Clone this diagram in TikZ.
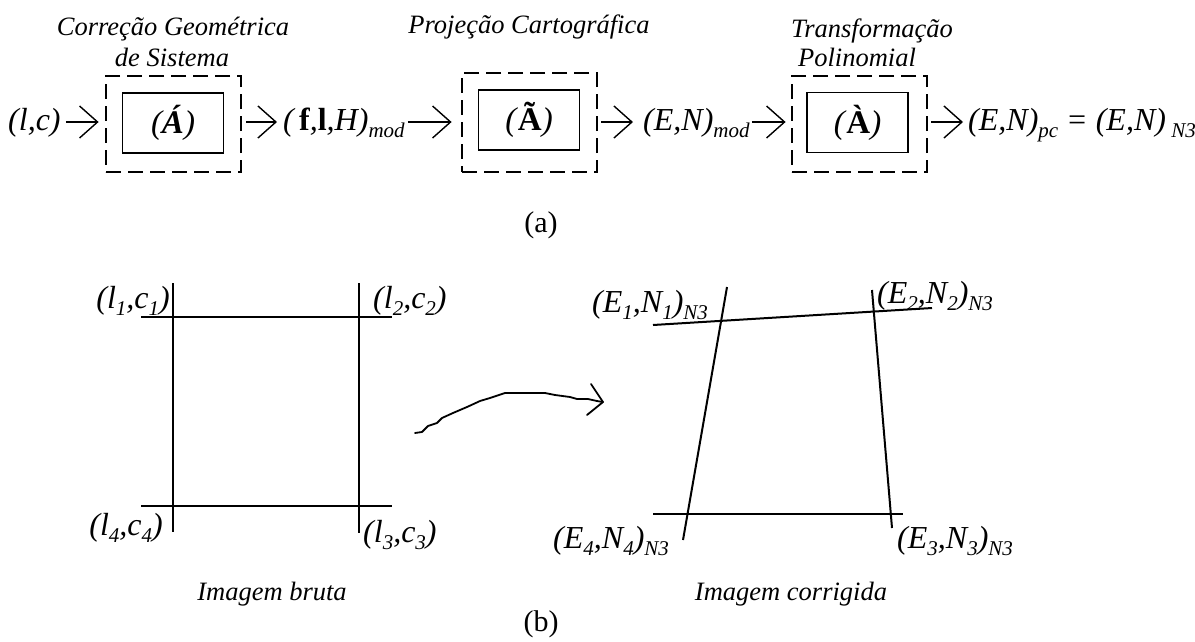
\documentclass[tikz,border=0pt]{standalone}
\usepackage{fontspec}
\setmainfont{Liberation Serif}
\usetikzlibrary{arrows.meta}
\newcommand{\sbs}[1]{\raisebox{-7pt}{\fontsize{21}{21}\selectfont\itshape #1}}
\begin{document}
\begin{tikzpicture}[x=1pt,y=-1pt,
  captxt/.style={font=\fontsize{26.5}{30}\selectfont\itshape, inner sep=0pt, anchor=base},
  frm/.style={font=\fontsize{32}{36}\selectfont\itshape, inner sep=0pt, anchor=base west},
  lblE/.style={font=\fontsize{32}{36}\selectfont\itshape, inner sep=0pt, anchor=base east},
  lblW/.style={font=\fontsize{32}{36}\selectfont\itshape, inner sep=0pt, anchor=base west},
  tagtxt/.style={font=\fontsize{30}{34}\selectfont, inner sep=0pt, anchor=base},
  dbox/.style={draw, line width=2.8pt, dash pattern=on 15pt off 7pt, minimum width=135pt, minimum height=96pt, inner sep=0pt},
  ibox/.style={draw, line width=1.6pt, minimum width=101pt, minimum height=60pt, inner sep=0pt, font=\fontsize{33}{36}\selectfont},
  arr/.style={line width=1.4pt, -{Straight Barb[length=18pt,width=32pt]}},
  gline/.style={line width=2pt},
  hand/.style={line width=1.8pt, line join=round, line cap=round},
]
\useasboundingbox (0,0) rectangle (1195,641);

% ---------- (a) ----------
\node[captxt] (c1a) at (173,35) {Correção Geométrica};
\node[captxt] (c1b) at (172,66) {de Sistema};
\node[captxt] (c2) at (529,33) {Projeção Cartográfica};
\node[captxt] (c3a) at (872,37) {Transformação};
\node[captxt] (c3b) at (857,66) {Polinomial};

\node[dbox] (b1) at (173.5,124) {};
\node[dbox, minimum height=99pt] (b2) at (529.5,122.5) {};
\node[dbox] (b3) at (859.5,124) {};
\node[ibox] (i1) at (173,123) {\itshape(\textbf{Á})};
\node[ibox] (i2) at (529,120) {{\itshape(}\textbf{Ã}{\itshape)}};
\node[ibox] (i3) at (857.5,122.5) {{\itshape(}\textbf{À}{\itshape)}};

\node[frm] (lc) at (8,130) {(l,c)};
\node[frm] (flh) at (283,130) {(\,\textbf{\upshape f},\textbf{\upshape l},H)\sbs{mod}};
\node[frm] (en) at (643,130) {(E,N)\sbs{mod}};
\node[frm] (enpc) at (968,130) {(E,N)\sbs{pc} = (E,N)\,\sbs{N3}};

\coordinate (ay) at (0,122);
\draw[arr, shorten <=5pt, shorten >=6pt] (lc.east |- ay) -- (b1.west |- ay);
\draw[arr, shorten <=4pt, shorten >=6pt] (b1.east |- ay) -- (flh.west |- ay);
\draw[arr, shorten <=3pt, shorten >=9pt] (flh.east |- ay) -- (b2.west |- ay);
\draw[arr, shorten <=3pt, shorten >=10pt] (b2.east |- ay) -- (en.west |- ay);
\draw[arr, shorten <=2pt, shorten >=5pt] (en.east |- ay) -- (b3.west |- ay);
\draw[arr, shorten <=3pt, shorten >=5pt] (b3.east |- ay) -- (enpc.west |- ay);

\node[tagtxt] (ta) at (541,232) {(a)};

% ---------- (b) left: raw image ----------
\draw[gline] (141,317) -- (392,317);
\draw[gline] (141,506) -- (392,506);
\draw[gline] (173,283) -- (173,532);
\draw[gline] (359,283) -- (359,533);
\node[lblE] (p1) at (170,308) {(l\sbs{1},c\sbs{1})};
\node[lblW] (p2) at (373,308) {(l\sbs{2},c\sbs{2})};
\node[lblE] (p4) at (163,535) {(l\sbs{4},c\sbs{4})};
\node[lblW] (p3) at (363,542) {(l\sbs{3},c\sbs{3})};
\node[captxt] (raw) at (272,600) {Imagem bruta};

% ---------- hand-drawn arrow ----------
\draw[hand] (415,433) -- (422,432) -- (428,426) -- (437,423) -- (442,418) -- (453,413) -- (467,407) -- (480,401) -- (490,398) -- (505,393) -- (545,393) -- (555,395) -- (570,397) -- (577,399) -- (588,399) -- (597,401) -- (603,402);
\draw[hand] (591,384) -- (603,402) -- (587,415);

% ---------- (b) right: corrected image ----------
\draw[gline] (653,325) -- (932,308);
\draw[gline] (727,287) -- (683,540);
\draw[gline] (872,290) -- (892,528);
\draw[gline] (653,514) -- (903,514);
\node[lblW] (q1) at (592,312) {(E\sbs{1},N\sbs{1})\sbs{N3}};
\node[lblW] (q2) at (877,303) {(E\sbs{2},N\sbs{2})\sbs{N3}};
\node[lblW] (q4) at (553,548) {(E\sbs{4},N\sbs{4})\sbs{N3}};
\node[lblW] (q3) at (897,548) {(E\sbs{3},N\sbs{3})\sbs{N3}};
\node[captxt] (cor) at (791,600) {Imagem corrigida};

\node[tagtxt] (tb) at (541,631) {(b)};
\end{tikzpicture}
\end{document}
